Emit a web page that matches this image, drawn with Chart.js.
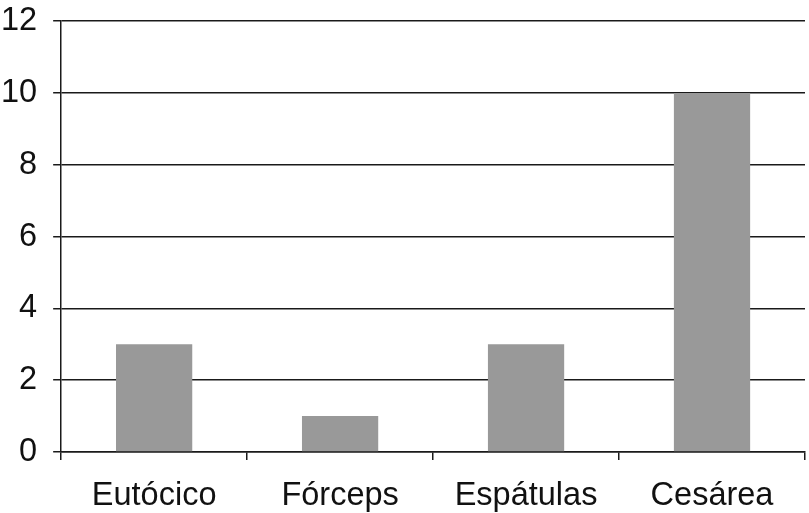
<!DOCTYPE html>
<html>
<head>
<meta charset="utf-8">
<script src="https://cdn.jsdelivr.net/npm/chart.js@4/dist/chart.umd.min.js"></script>
<style>
  html, body { margin: 0; padding: 0; background: #fff; }
</style>
</head>
<body>
<canvas id="partoChart" width="809" height="513"></canvas>
<script>
const categories = ['Eutócico', 'Fórceps', 'Espátulas', 'Cesárea'];
const counts = [3, 1, 3, 10];
const yTicks = [0, 2, 4, 6, 8, 10, 12];

const ctx = document.getElementById('partoChart').getContext('2d');
new Chart(ctx, {
  type: 'bar',
  data: {
    labels: categories,
    datasets: [{
      data: counts,
      backgroundColor: '#999999',
      borderWidth: 0,
      categoryPercentage: 1,
      barPercentage: 0.41
    }]
  },
  options: {
    responsive: false,
    animation: false,
    layout: {
      padding: { top: 0, right: 4, left: -15, bottom: -20 }
    },
    plugins: {
      legend: { display: false },
      tooltip: { enabled: false }
    },
    scales: {
      x: {
        offset: true,
        grid: {
          display: true,
          drawOnChartArea: false,
          drawTicks: true,
          tickLength: 8,
          color: '#1a1a1a',
          lineWidth: 1.5,
          offset: true
        },
        border: { display: true, color: '#1a1a1a', width: 1.5 },
        ticks: {
          color: '#111',
          padding: 17,
          font: { family: '"Liberation Sans", Arial, sans-serif', size: 32.5 }
        }
      },
      y: {
        min: 0,
        max: 12,
        afterBuildTicks: axis => {
          axis.ticks = yTicks.map(v => ({ value: v }));
        },
        grid: {
          color: '#1a1a1a',
          lineWidth: 1.5,
          tickLength: 8
        },
        border: { display: true, color: '#1a1a1a', width: 1.5 },
        ticks: {
          color: '#111',
          padding: 16,
          font: { family: '"Liberation Sans", Arial, sans-serif', size: 32.5, lineHeight: 0.32 }
        }
      }
    }
  }
});
</script>
</body>
</html>
